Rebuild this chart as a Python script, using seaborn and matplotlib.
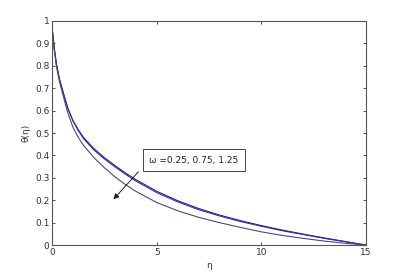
import matplotlib
matplotlib.use("Agg")
import matplotlib.pyplot as plt
import seaborn as sns
import pandas as pd

eta = [0, 0.1, 0.2, 0.35, 0.5, 0.75, 1.0, 1.25, 1.5, 2.0, 2.5, 3.0, 3.5, 4.0,
       5, 6, 7, 8, 9, 10, 11, 12, 13, 14, 15]
theta_a = [0.97, 0.88, 0.81, 0.74, 0.69, 0.61, 0.555, 0.515, 0.48, 0.43, 0.39,
           0.355, 0.322, 0.292, 0.24, 0.198, 0.163, 0.134, 0.109, 0.087, 0.067,
           0.049, 0.032, 0.016, 0.0]
theta_b = [0.97, 0.88, 0.81, 0.74, 0.69, 0.61, 0.553, 0.511, 0.475, 0.424, 0.384,
           0.349, 0.316, 0.286, 0.234, 0.193, 0.158, 0.13, 0.105, 0.084, 0.064,
           0.047, 0.03, 0.015, 0.0]
theta_c = [0.97, 0.875, 0.80, 0.73, 0.675, 0.59, 0.525, 0.48, 0.445, 0.39, 0.345,
           0.305, 0.27, 0.24, 0.19, 0.153, 0.124, 0.1, 0.079, 0.059, 0.043,
           0.03, 0.018, 0.008, 0.0]
series_names = ["a", "b", "c"]
annot_text = "\u03c9 =0.25, 0.75, 1.25"

rows = []
for name, vals in zip(series_names, [theta_a, theta_b, theta_c]):
    for e, v in zip(eta, vals):
        rows.append({"eta": e, "theta": v, "s": name})
df = pd.DataFrame(rows)

sns.set_style("ticks")
plt.rcParams["font.family"] = ["DejaVu Sans"]

fig = plt.figure(figsize=(4.04, 2.76), dpi=100)
ax = fig.add_axes([0.129, 0.112, 0.777, 0.812])

palette = {"a": "#1c1c9c", "b": "#34348c", "c": "#4a4a78"}
sns.lineplot(data=df, x="eta", y="theta", hue="s", palette=palette,
             linewidth=0.8, legend=False, ax=ax, estimator=None, sort=False)

ax.set_xlim(0, 15)
ax.set_ylim(0, 1)
ax.set_xticks([0, 5, 10, 15])
ax.set_yticks([i / 10 for i in range(11)])
ax.set_yticklabels(["0"] + ["%.1f" % (i / 10) for i in range(1, 10)] + ["1"])
ax.set_xticklabels(["0", "5", "10", "15"])
ax.tick_params(direction="in", length=2.5, width=0.6, labelsize=6.5,
               colors="#333333", top=True, right=True, pad=2)
for sp in ax.spines.values():
    sp.set_visible(True)
    sp.set_color("#555555")
    sp.set_linewidth(0.8)
ax.set_xlabel("\u03b7", fontsize=6.5, color="#333333", labelpad=3)
ax.set_ylabel("\u03b8(\u03b7)", fontsize=6.5, color="#333333", labelpad=3)

ax.annotate("", xy=(2.93, 0.204), xytext=(4.12, 0.327),
            arrowprops=dict(arrowstyle="-|>", color="#222222", lw=0.7,
                            mutation_scale=8, shrinkA=0, shrinkB=0))
ax.text(6.77, 0.379, annot_text, fontsize=6.5, ha="center", va="center",
        color="#222222",
        bbox=dict(boxstyle="square,pad=0.7", facecolor="white",
                  edgecolor="#444444", linewidth=0.7))

fig.savefig("out.png", dpi=100)
